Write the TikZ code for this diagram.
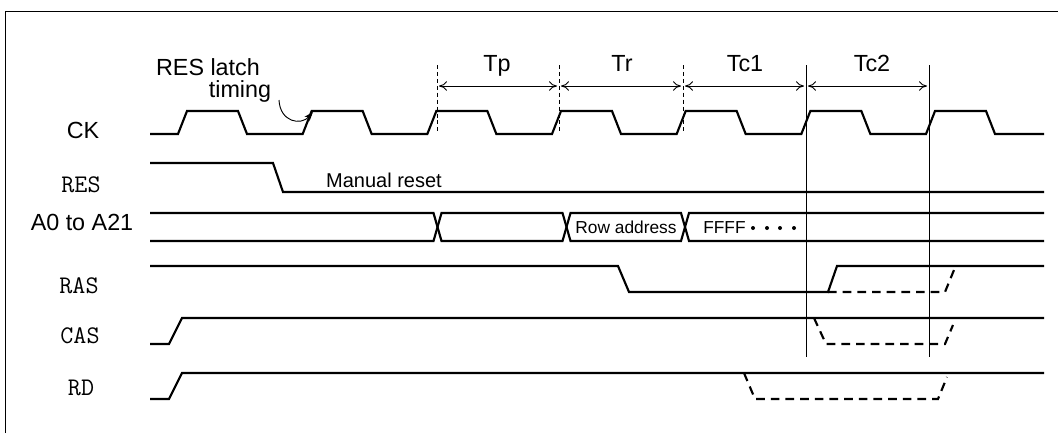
\documentclass[tikz,border=0pt]{standalone}
\usepackage{fontspec}
\setmainfont{Liberation Sans}
\usetikzlibrary{arrows.meta}

\begin{document}
\begin{tikzpicture}[x=.75pt,y=-.75pt,>={Stealth[length=7pt,width=5pt]},
  wave/.style={line width=1.6pt},
  wavedash/.style={wave,dash pattern=on 6.5pt off 4.5pt},
  cyclemark/.style={line width=.6pt,dash pattern=on 3pt off 2.2pt},
  cycleline/.style={line width=.6pt},
  cyclespan/.style={line width=.7pt,shorten <=1.5pt,shorten >=1.5pt,
    {To[length=6pt,width=7pt]}-{To[length=6pt,width=7pt]}},
  lbl/.style={font=\fontsize{17.5}{19}\selectfont,inner sep=0pt,anchor=base},
  mono/.style={font=\ttfamily\fontsize{19}{21}\selectfont,inner sep=0pt,anchor=base},
  remark/.style={font=\fontsize{15}{17}\selectfont,inner sep=0pt,anchor=base},
  note/.style={font=\fontsize{13}{15}\selectfont,inner sep=0pt,anchor=base}]
\useasboundingbox (0,0) rectangle (1058,433);
\draw[line width=.6pt] (5,433) -- (5,11) -- (1058,11);
% signal names
\node[lbl] (ck) at (83,138) {CK};
\node[mono] (res) at (81,192) {RES};
\node[lbl] (addr) at (82,230) {A0 to A21};
\node[mono] (ras) at (79,293) {RAS};
\node[mono] (cas) at (80,343) {CAS};
\node[mono] (rd) at (81,395) {RD};
% cycle boundaries
\foreach \m/\x in {a/437,b/559,c/683}{
\coordinate (m\m) at (\x,86);
\draw[cyclemark] (\x,65) -- (\x,133);}
\foreach \m/\x in {d/806,e/929}{
\coordinate (m\m) at (\x,86);
\draw[cycleline] (\x,65) -- (\x,357);}
\draw[cyclespan] (ma) -- (mb);
\draw[cyclespan] (mb) -- (mc);
\draw[cyclespan] (mc) -- (md);
\draw[cyclespan] (md) -- (me);
\node[lbl] (tp) at (497,71) {Tp};
\node[lbl] (tr) at (622,71) {Tr};
\node[lbl] (tcone) at (745,71) {Tc1};
\node[lbl] (tctwo) at (872,71) {Tc2};
% CK
\draw[wave] (150,134) \foreach \k in {0,...,6}{
  -- ({178+124.67*\k},134) -- ({187+124.67*\k},111)
  -- ({238+124.67*\k},111) -- ({247+124.67*\k},134)} -- (1044,134);
\node[lbl] (latch) at (208,75) {RES latch};
\node[lbl] (timing) at (240,97) {timing};
\coordinate (latchfrom) at (279,100);
\coordinate (latchedge) at (313,112);
\draw[->,line width=.7pt] (latchfrom) .. controls (280,122) and (301,126) .. (latchedge);
% RES
\draw[wave] (150,163) -- (273,163) -- (283,192) -- (1044,192);
\node[remark] (manual) at (384,187) {Manual reset};
% address bus
\draw[wave] (150,213) -- (433.5,213) -- (437.5,227) -- (433.5,241) -- (150,241);
\draw[wave] (437.5,227) -- (441.5,213) -- (562.5,213) -- (566.5,227)
  -- (562.5,241) -- (441.5,241) -- cycle;
\draw[wave] (566.5,227) -- (570.5,213) -- (681,213) -- (685,227)
  -- (681,241) -- (570.5,241) -- cycle;
\draw[wave] (1044,213) -- (689,213) -- (685,227) -- (689,241) -- (1044,241);
\node[note] (rowaddr) at (626,233) {Row address};
\node[note,anchor=base west] (ffff) at (703,233) {FFFF};
\foreach \d in {753,767,780,794}
\fill (\d,228) circle[radius=1.5pt];
% RAS, CAS, RD
\draw[wave] (150,266) -- (618,266) -- (629,292) -- (828,292) -- (837,266) -- (1044,266);
\draw[wavedash] (828,292) -- (945,292) -- (954,270);
\draw[wave] (150,344) -- (169,344) -- (182,318) -- (1044,318);
\draw[wavedash] (814,318) -- (826,344) -- (945,344) -- (953,325);
\draw[wave] (150,399) -- (169,399) -- (182,373) -- (1044,373);
\draw[wavedash] (744,373) -- (755,399) -- (938,399) -- (947,377);
\end{tikzpicture}
\end{document}
